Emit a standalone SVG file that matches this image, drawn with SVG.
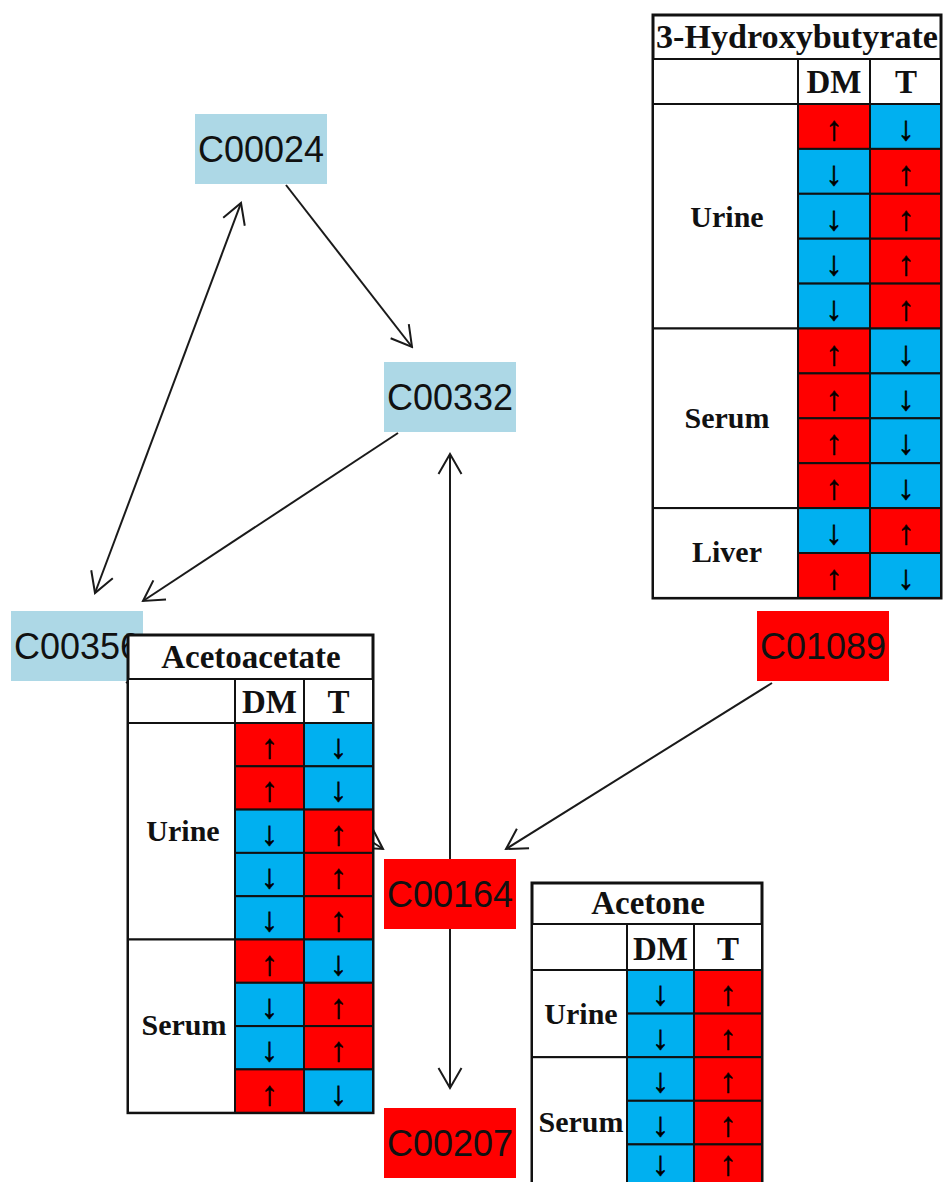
<svg xmlns="http://www.w3.org/2000/svg" width="943" height="1182" viewBox="0 0 943 1182">
  <style>
    .edge { fill: none; stroke: #1a1a1a; stroke-width: 2; marker-end: url(#ah); }
    .blue { fill: #ADD8E6; }
    .red { fill: #FF0000; }
    .nlabel { font-family: "Liberation Sans", Arial, sans-serif; font-size: 36px; text-anchor: middle; fill: #111; }
    .frame { fill: #fff; stroke: #111; stroke-width: 3; }
    .grid { fill: #fff; stroke: #111; stroke-width: 2; }
    .up { fill: #FF0000; stroke: #111; stroke-width: 2; }
    .dn { fill: #00B0F0; stroke: #111; stroke-width: 2; }
    .ttl { font-family: "Liberation Serif", "Times New Roman", serif; font-weight: bold; font-size: 33px; text-anchor: middle; fill: #111; }
    .row { font-family: "Liberation Serif", "Times New Roman", serif; font-weight: bold; font-size: 30px; text-anchor: middle; fill: #111; }
    .arw { font-family: "Liberation Serif", "DejaVu Serif", serif; font-size: 34px; text-anchor: middle; fill: #000; stroke: #000; stroke-width: 0.6; }
  </style>
  <defs>
    <marker id="ah" viewBox="-22 -13 24 26" refX="0" refY="0" markerWidth="24" markerHeight="26" markerUnits="userSpaceOnUse" orient="auto-start-reverse">
      <path d="M-20,-11.5 L0,0 L-20,11.5" fill="none" stroke="#1a1a1a" stroke-width="2"/>
    </marker>
  </defs>
  <rect width="943" height="1182" fill="#fff"/>

  <!-- connectors -->
  <g id="edges">
    <line class="edge" x1="286" y1="185" x2="412" y2="347"/>
    <line class="edge" x1="95" y1="593" x2="241" y2="203" style="marker-start:url(#ah)"/>
    <line class="edge" x1="398" y1="433" x2="143" y2="601"/>
    <line class="edge" x1="126" y1="682" x2="383" y2="849"/>
    <line class="edge" x1="450" y1="859" x2="450" y2="454"/>
    <line class="edge" x1="450" y1="929" x2="450" y2="1088"/>
    <line class="edge" x1="772" y1="683" x2="506" y2="849"/>
  </g>

  <!-- compound nodes -->
  <g id="C00024"><rect class="blue" x="195" y="114" width="132" height="70"/><text class="nlabel" x="261" y="162">C00024</text></g>
  <g id="C00332"><rect class="blue" x="384" y="362" width="132" height="70"/><text class="nlabel" x="450" y="410">C00332</text></g>
  <g id="C00356"><rect class="blue" x="11" y="611" width="132" height="70"/><text class="nlabel" x="77" y="659">C00356</text></g>
  <g id="C01089"><rect class="red" x="757" y="611" width="132" height="70"/><text class="nlabel" x="823" y="659">C01089</text></g>
  <g id="C00164"><rect class="red" x="384" y="859" width="132" height="70"/><text class="nlabel" x="450" y="907">C00164</text></g>
  <g id="C00207"><rect class="red" x="384" y="1108" width="132" height="70"/><text class="nlabel" x="450" y="1156">C00207</text></g>

  <!-- 3-Hydroxybutyrate table -->
  <g id="table-3hb">
    <rect class="frame" x="653" y="15" width="288" height="583"/>
    <text class="ttl" x="797" y="48" textLength="282" lengthAdjust="spacingAndGlyphs">3-Hydroxybutyrate</text>
    <rect class="grid" x="653" y="59" width="145" height="45"/>
    <rect class="grid" x="798" y="59" width="72" height="45"/>
    <rect class="grid" x="870" y="59" width="71" height="45"/>
    <text class="ttl" x="834" y="93">DM</text>
    <text class="ttl" x="906" y="93">T</text>
    <rect class="grid" x="653" y="104" width="145" height="224.5"/>
    <rect class="grid" x="653" y="328.5" width="145" height="179.6"/>
    <rect class="grid" x="653" y="508.1" width="145" height="89.8"/>
    <text class="row" x="727" y="227">Urine</text>
    <text class="row" x="727" y="428">Serum</text>
    <text class="row" x="727" y="562">Liver</text>
    <rect class="up" x="798" y="104" width="72" height="44.9"/><rect class="dn" x="870" y="104" width="71" height="44.9"/>
    <rect class="dn" x="798" y="148.9" width="72" height="44.9"/><rect class="up" x="870" y="148.9" width="71" height="44.9"/>
    <rect class="dn" x="798" y="193.8" width="72" height="44.9"/><rect class="up" x="870" y="193.8" width="71" height="44.9"/>
    <rect class="dn" x="798" y="238.7" width="72" height="44.9"/><rect class="up" x="870" y="238.7" width="71" height="44.9"/>
    <rect class="dn" x="798" y="283.6" width="72" height="44.9"/><rect class="up" x="870" y="283.6" width="71" height="44.9"/>
    <rect class="up" x="798" y="328.5" width="72" height="44.9"/><rect class="dn" x="870" y="328.5" width="71" height="44.9"/>
    <rect class="up" x="798" y="373.4" width="72" height="44.9"/><rect class="dn" x="870" y="373.4" width="71" height="44.9"/>
    <rect class="up" x="798" y="418.3" width="72" height="44.9"/><rect class="dn" x="870" y="418.3" width="71" height="44.9"/>
    <rect class="up" x="798" y="463.2" width="72" height="44.9"/><rect class="dn" x="870" y="463.2" width="71" height="44.9"/>
    <rect class="dn" x="798" y="508.1" width="72" height="44.9"/><rect class="up" x="870" y="508.1" width="71" height="44.9"/>
    <rect class="up" x="798" y="553" width="72" height="44.9"/><rect class="dn" x="870" y="553" width="71" height="44.9"/>
    <g transform="translate(0,5)">
      <text class="arw" x="834" y="135">↑</text><text class="arw" x="906" y="135">↓</text>
      <text class="arw" x="834" y="180">↓</text><text class="arw" x="906" y="180">↑</text>
      <text class="arw" x="834" y="225">↓</text><text class="arw" x="906" y="225">↑</text>
      <text class="arw" x="834" y="270">↓</text><text class="arw" x="906" y="270">↑</text>
      <text class="arw" x="834" y="315">↓</text><text class="arw" x="906" y="315">↑</text>
      <text class="arw" x="834" y="360">↑</text><text class="arw" x="906" y="360">↓</text>
      <text class="arw" x="834" y="405">↑</text><text class="arw" x="906" y="405">↓</text>
      <text class="arw" x="834" y="449">↑</text><text class="arw" x="906" y="449">↓</text>
      <text class="arw" x="834" y="494">↑</text><text class="arw" x="906" y="494">↓</text>
      <text class="arw" x="834" y="539">↓</text><text class="arw" x="906" y="539">↑</text>
      <text class="arw" x="834" y="584">↑</text><text class="arw" x="906" y="584">↓</text>
    </g>
  </g>

  <!-- Acetoacetate table -->
  <g id="table-acetoacetate">
    <rect class="frame" x="128" y="635" width="245" height="477.7"/>
    <text class="ttl" x="251" y="668">Acetoacetate</text>
    <rect class="grid" x="128" y="679" width="107" height="44"/>
    <rect class="grid" x="235" y="679" width="69" height="44"/>
    <rect class="grid" x="304" y="679" width="69" height="44"/>
    <text class="ttl" x="269.5" y="713">DM</text>
    <text class="ttl" x="338.5" y="713">T</text>
    <rect class="grid" x="128" y="723" width="107" height="216.5"/>
    <rect class="grid" x="128" y="939.5" width="107" height="173.2"/>
    <text class="row" x="183" y="841">Urine</text>
    <text class="row" x="184" y="1035">Serum</text>
    <rect class="up" x="235" y="723" width="69" height="43.3"/><rect class="dn" x="304" y="723" width="69" height="43.3"/>
    <rect class="up" x="235" y="766.3" width="69" height="43.3"/><rect class="dn" x="304" y="766.3" width="69" height="43.3"/>
    <rect class="dn" x="235" y="809.6" width="69" height="43.3"/><rect class="up" x="304" y="809.6" width="69" height="43.3"/>
    <rect class="dn" x="235" y="852.9" width="69" height="43.3"/><rect class="up" x="304" y="852.9" width="69" height="43.3"/>
    <rect class="dn" x="235" y="896.2" width="69" height="43.3"/><rect class="up" x="304" y="896.2" width="69" height="43.3"/>
    <rect class="up" x="235" y="939.5" width="69" height="43.3"/><rect class="dn" x="304" y="939.5" width="69" height="43.3"/>
    <rect class="dn" x="235" y="982.8" width="69" height="43.3"/><rect class="up" x="304" y="982.8" width="69" height="43.3"/>
    <rect class="dn" x="235" y="1026.1" width="69" height="43.3"/><rect class="up" x="304" y="1026.1" width="69" height="43.3"/>
    <rect class="up" x="235" y="1069.4" width="69" height="43.3"/><rect class="dn" x="304" y="1069.4" width="69" height="43.3"/>
    <g transform="translate(0,5)">
      <text class="arw" x="269.5" y="753">↑</text><text class="arw" x="338.5" y="753">↓</text>
      <text class="arw" x="269.5" y="796">↑</text><text class="arw" x="338.5" y="796">↓</text>
      <text class="arw" x="269.5" y="840">↓</text><text class="arw" x="338.5" y="840">↑</text>
      <text class="arw" x="269.5" y="883">↓</text><text class="arw" x="338.5" y="883">↑</text>
      <text class="arw" x="269.5" y="926">↓</text><text class="arw" x="338.5" y="926">↑</text>
      <text class="arw" x="269.5" y="970">↑</text><text class="arw" x="338.5" y="970">↓</text>
      <text class="arw" x="269.5" y="1013">↓</text><text class="arw" x="338.5" y="1013">↑</text>
      <text class="arw" x="269.5" y="1056">↓</text><text class="arw" x="338.5" y="1056">↑</text>
      <text class="arw" x="269.5" y="1100">↑</text><text class="arw" x="338.5" y="1100">↓</text>
    </g>
  </g>

  <!-- Acetone table -->
  <g id="table-acetone">
    <rect class="frame" x="532" y="883" width="230" height="305"/>
    <text class="ttl" x="648" y="914">Acetone</text>
    <rect class="grid" x="532" y="924" width="95" height="46"/>
    <rect class="grid" x="627" y="924" width="67" height="46"/>
    <rect class="grid" x="694" y="924" width="68" height="46"/>
    <text class="ttl" x="660.5" y="960">DM</text>
    <text class="ttl" x="728" y="960">T</text>
    <rect class="grid" x="532" y="970" width="95" height="87.2"/>
    <rect class="grid" x="532" y="1057.2" width="95" height="130.8"/>
    <text class="row" x="581" y="1024">Urine</text>
    <text class="row" x="581" y="1132">Serum</text>
    <rect class="dn" x="627" y="970" width="67" height="43.6"/><rect class="up" x="694" y="970" width="68" height="43.6"/>
    <rect class="dn" x="627" y="1013.6" width="67" height="43.6"/><rect class="up" x="694" y="1013.6" width="68" height="43.6"/>
    <rect class="dn" x="627" y="1057.2" width="67" height="43.6"/><rect class="up" x="694" y="1057.2" width="68" height="43.6"/>
    <rect class="dn" x="627" y="1100.8" width="67" height="43.6"/><rect class="up" x="694" y="1100.8" width="68" height="43.6"/>
    <rect class="dn" x="627" y="1144.4" width="67" height="43.6"/><rect class="up" x="694" y="1144.4" width="68" height="43.6"/>
    <g transform="translate(0,5)">
      <text class="arw" x="660.5" y="1000">↓</text><text class="arw" x="728" y="1000">↑</text>
      <text class="arw" x="660.5" y="1044">↓</text><text class="arw" x="728" y="1044">↑</text>
      <text class="arw" x="660.5" y="1087">↓</text><text class="arw" x="728" y="1087">↑</text>
      <text class="arw" x="660.5" y="1131">↓</text><text class="arw" x="728" y="1131">↑</text>
      <text class="arw" x="660.5" y="1170">↓</text><text class="arw" x="728" y="1170">↑</text>
    </g>
  </g>
</svg>
